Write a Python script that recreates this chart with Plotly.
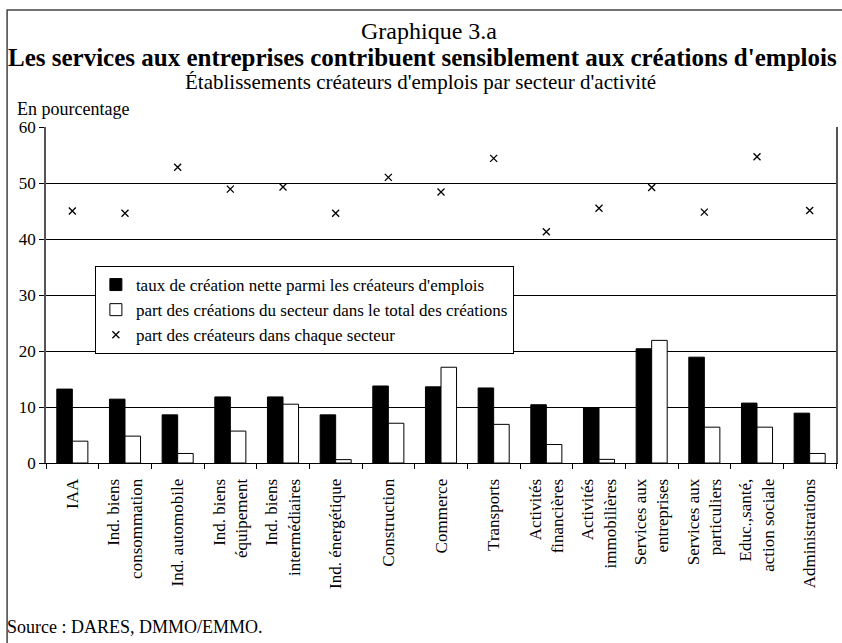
import plotly.graph_objects as go

categories = [
    "IAA",
    "Ind. biens<br>consommation",
    "Ind. automobile",
    "Ind. biens<br>équipement",
    "Ind. biens<br>intermédiaires",
    "Ind. énergétique",
    "Construction",
    "Commerce",
    "Transports",
    "Activités<br>financières",
    "Activités<br>immobilières",
    "Services aux<br>entreprises",
    "Services aux<br>particuliers",
    "Educ.,santé,<br>action sociale",
    "Administrations",
]
taux_creation = [13.2, 11.4, 8.6, 11.8, 11.8, 8.6, 13.75, 13.6, 13.4, 10.4, 9.9, 20.4, 18.9, 10.7, 8.9]
part_creations = [3.9, 4.8, 1.7, 5.7, 10.5, 0.6, 7.1, 17.1, 6.9, 3.3, 0.65, 21.9, 6.4, 6.4, 1.7]
part_createurs = [45.0, 44.6, 52.8, 48.9, 49.3, 44.6, 51.0, 48.4, 54.4, 41.3, 45.5, 49.2, 44.8, 54.7, 45.1]

names = [
    "taux de création nette parmi les créateurs d'emplois",
    "part des créations du secteur dans le total des créations",
    "part des créateurs dans chaque secteur",
]

FONT = "Liberation Serif, Times New Roman, serif"
W, H = 842, 643
# plot area in page pixels
L, R, T, B = 46, 838, 127, 463


def px(x):
    return (x - L) / (R - L)


def py(y):
    return (B - y) / (B - T)


fig = go.Figure()
fig.add_trace(go.Bar(x=categories, y=taux_creation, name=names[0],
                     marker=dict(color="black", line=dict(color="black", width=1))))
fig.add_trace(go.Bar(x=categories, y=part_creations, name=names[1],
                     marker=dict(color="white", line=dict(color="black", width=1))))
fig.add_trace(go.Scatter(x=categories, y=part_createurs, name=names[2], mode="markers",
                         marker=dict(symbol="x-thin", size=7, color="black",
                                     line=dict(color="black", width=1.3))))

fig.update_layout(
    width=W, height=H,
    margin=dict(l=L, r=W - R, t=T, b=H - B),
    paper_bgcolor="white", plot_bgcolor="white",
    font=dict(family=FONT, size=16, color="black"),
    barmode="group", bargap=0.41, bargroupgap=0,
    showlegend=True,
    legend=dict(x=px(95), y=py(266), xanchor="left", yanchor="top",
                bgcolor="white", bordercolor="black", borderwidth=1,
                font=dict(family=FONT, size=17, color="black"),
                itemwidth=30, tracegroupgap=0),
    xaxis=dict(type="category", range=[-0.5, len(categories) - 0.5], tickangle=-90,
               showline=True, linecolor="black", linewidth=1, ticks="outside",
               ticklen=5, tickcolor="black", tickson="boundaries", showgrid=False,
               ticklabelstandoff=8,
               tickfont=dict(family=FONT, size=17, color="black")),
    yaxis=dict(range=[0, 60], dtick=10, showline=True, linecolor="#555",
               linewidth=1.5, mirror=True, ticks="outside", ticklen=5,
               tickcolor="black", showgrid=True, gridcolor="black", gridwidth=1,
               zeroline=False,
               tickfont=dict(family=FONT, size=17, color="black")),
)

ann = [
    dict(text="Graphique 3.a", x=px(430), y=py(31), size=24),
    dict(text="<b>Les services aux entreprises contribuent sensiblement aux créations d'emplois</b>",
         x=px(423), y=py(57), size=25),
    dict(text="Établissements créateurs d'emplois par secteur d'activité", x=px(421), y=py(82),
         size=21),
]
for a in ann:
    fig.add_annotation(text=a["text"], x=a["x"], y=a["y"], xref="paper", yref="paper",
                       xanchor="center", yanchor="middle", showarrow=False,
                       font=dict(family=FONT, size=a["size"], color="black"))

fig.add_annotation(text="En pourcentage", x=px(15), y=py(109), xref="paper", yref="paper",
                   xanchor="left", yanchor="middle", showarrow=False,
                   font=dict(family=FONT, size=18, color="black"))
fig.add_annotation(text="Source : DARES, DMMO/EMMO.", x=px(5), y=py(627), xref="paper", yref="paper",
                   xanchor="left", yanchor="middle", showarrow=False,
                   font=dict(family=FONT, size=18, color="black"))

fig.add_shape(type="rect", xref="paper", yref="paper",
              x0=px(7), x1=px(860), y0=py(680), y1=py(10),
              line=dict(color="#444", width=1.5), fillcolor="rgba(0,0,0,0)", layer="below")

fig.write_html("out.html", config={"displayModeBar": False},
               post_script="document.body.style.margin='0';document.body.style.overflow='hidden';")
